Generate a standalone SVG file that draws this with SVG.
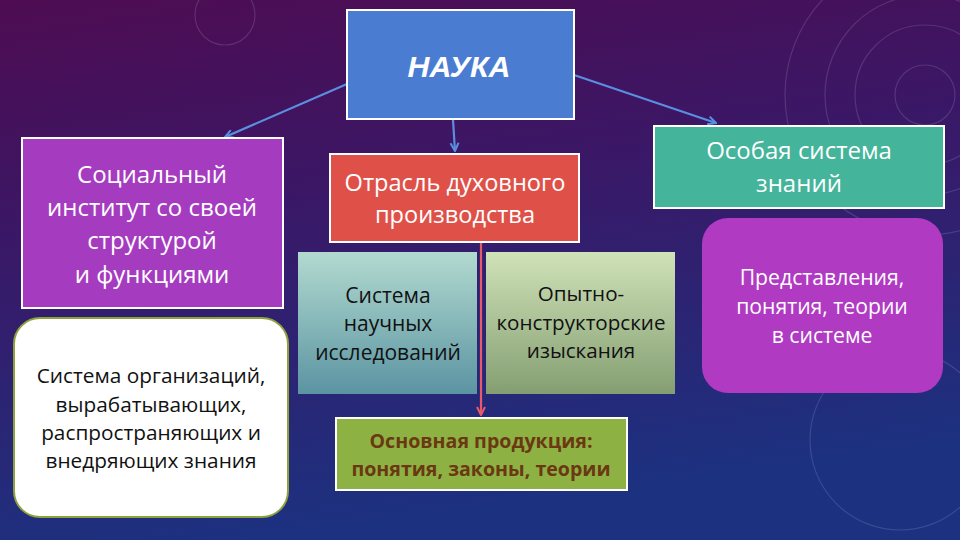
<svg xmlns="http://www.w3.org/2000/svg" width="960" height="540" viewBox="0 0 960 540">
<defs>
<linearGradient id="bg" x1="0" y1="0" x2="0.25" y2="1">
<stop offset="0" stop-color="#4e0c52"/>
<stop offset="0.4" stop-color="#3b1766"/>
<stop offset="1" stop-color="#1c3180"/>
</linearGradient>
<linearGradient id="gTeal" x1="0" y1="0" x2="0" y2="1">
<stop offset="0" stop-color="#b2dad0"/>
<stop offset="1" stop-color="#5b94a2"/>
</linearGradient>
<linearGradient id="gOlive" x1="0" y1="0" x2="0" y2="1">
<stop offset="0" stop-color="#d0e2b8"/>
<stop offset="1" stop-color="#849e72"/>
</linearGradient>
<marker id="ab" viewBox="0 0 10 10" refX="9" refY="5" markerWidth="10" markerHeight="10" orient="auto" markerUnits="userSpaceOnUse">
<path d="M1,1 L9,5 L1,9" fill="none" stroke="#5a8fe0" stroke-width="2"/>
</marker>
<marker id="ar" viewBox="0 0 10 10" refX="9" refY="5" markerWidth="10" markerHeight="10" orient="auto" markerUnits="userSpaceOnUse">
<path d="M1,1 L9,5 L1,9" fill="none" stroke="#e65a6a" stroke-width="2"/>
</marker>
<style>
.t{font-family:"Open Sans","Noto Sans","Liberation Sans",sans-serif;text-anchor:middle}
.w{fill:#ffffff}
.k{fill:#111111}
.box{stroke:#ffffff;stroke-width:2}
.blue{stroke:#5a8fe0;stroke-width:2.2;fill:none}
</style>
</defs>
<rect width="960" height="540" fill="url(#bg)"/>
<g fill="none" stroke="#ffffff" stroke-opacity="0.13" stroke-width="1.2">
<circle cx="925" cy="95" r="30"/>
<circle cx="925" cy="95" r="70"/>
<circle cx="925" cy="95" r="100"/>
<circle cx="925" cy="95" r="140"/>
<circle cx="225" cy="15" r="30"/>
<circle cx="900" cy="440" r="90"/>
</g>
<g id="connectors">
<line class="blue" x1="347" y1="84" x2="225" y2="137" marker-end="url(#ab)"/>
<line class="blue" x1="453" y1="120" x2="455" y2="151" marker-end="url(#ab)"/>
<line class="blue" x1="574" y1="75" x2="716" y2="123" marker-end="url(#ab)"/>
<line x1="481" y1="243" x2="481" y2="415" stroke="#e65a6a" stroke-width="2.2" marker-end="url(#ar)"/>
</g>
<g id="nauka">
<rect class="box" x="347" y="10" width="227" height="109" fill="#4a7dd2"/>
<text x="459" y="77" font-family="'Liberation Sans',sans-serif" font-weight="bold" font-style="italic" font-size="30" fill="#fff" text-anchor="middle" textLength="103" lengthAdjust="spacingAndGlyphs">НАУКА</text>
</g>
<g id="social">
<rect class="box" x="22" y="138" width="261" height="170" fill="#a53cc0"/>
<text class="t w" font-size="24"><tspan x="152" y="183">Социальный</tspan><tspan x="152" y="216">институт со своей</tspan><tspan x="152" y="249">структурой</tspan><tspan x="152" y="283">и функциями</tspan></text>
</g>
<g id="orgs">
<rect x="14" y="318" width="274" height="199" rx="26" fill="#ffffff" stroke="#8ea23c" stroke-width="2"/>
<text class="t k" font-size="20.8"><tspan x="151" y="383">Система организаций,</tspan><tspan x="151" y="412">вырабатывающих,</tspan><tspan x="151" y="440">распространяющих и</tspan><tspan x="151" y="468">внедряющих знания</tspan></text>
</g>
<g id="otrasl">
<rect class="box" x="330" y="154" width="249" height="88" fill="#df5148"/>
<text class="t w" font-size="23.6"><tspan x="455" y="191">Отрасль духовного</tspan><tspan x="455" y="223">производства</tspan></text>
</g>
<g id="sistema">
<rect x="298" y="252" width="179" height="142" fill="url(#gTeal)"/>
<text class="t k" font-size="21"><tspan x="388" y="303">Система</tspan><tspan x="388" y="331">научных</tspan><tspan x="388" y="360">исследований</tspan></text>
</g>
<g id="opytno">
<rect x="486" y="252" width="189" height="142" fill="url(#gOlive)"/>
<text class="t k" font-size="20.6"><tspan x="581" y="301">Опытно-</tspan><tspan x="581" y="330">конструкторские</tspan><tspan x="581" y="358">изыскания</tspan></text>
</g>
<g id="produkcia">
<rect class="box" x="336" y="418" width="291" height="72" fill="#8db243"/>
<text class="t" font-size="19.6" font-weight="bold" fill="#6a3812"><tspan x="481" y="448">Основная продукция:</tspan><tspan x="481" y="476">понятия, законы, теории</tspan></text>
</g>
<g id="osobaya">
<rect class="box" x="654" y="126" width="290" height="82" fill="#44b49b"/>
<text class="t w" font-size="24"><tspan x="799" y="159">Особая система</tspan><tspan x="799" y="192">знаний</tspan></text>
</g>
<g id="predstavlenia">
<rect x="702" y="218" width="241" height="175" rx="26" fill="#b03ac2"/>
<text class="t w" font-size="21.2"><tspan x="822" y="285">Представления,</tspan><tspan x="822" y="314">понятия, теории</tspan><tspan x="822" y="343">в системе</tspan></text>
</g>
</svg>
